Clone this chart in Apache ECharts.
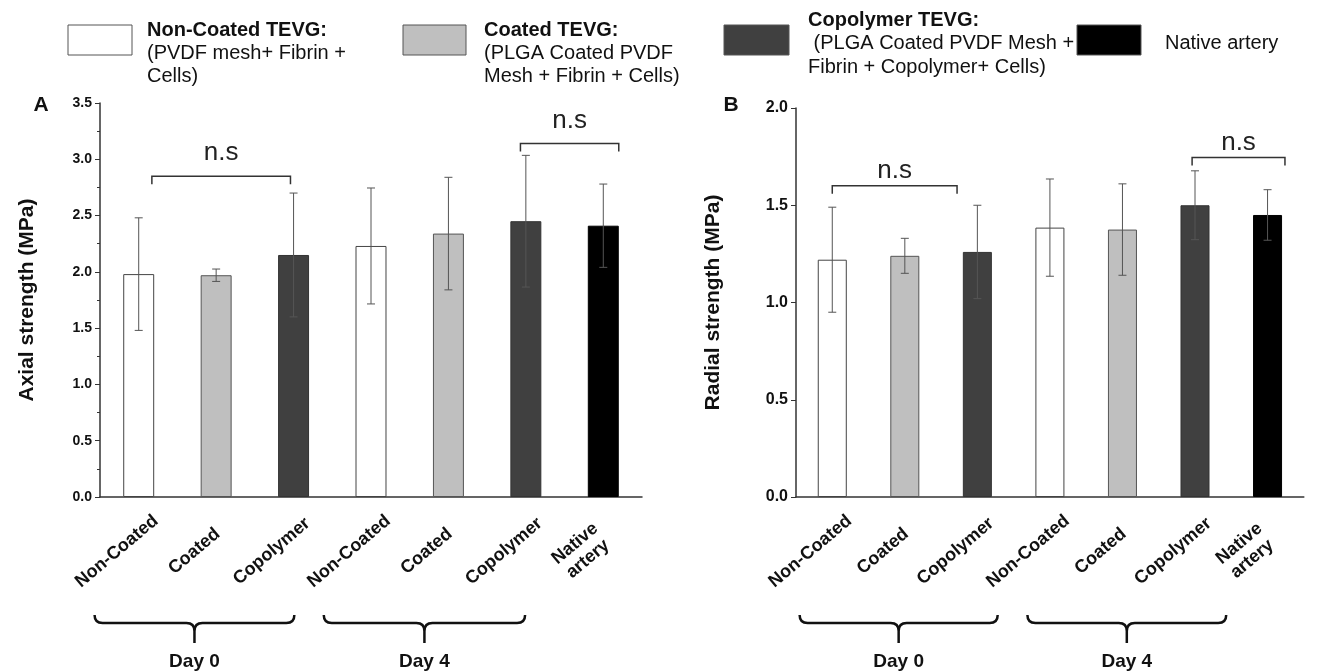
<!DOCTYPE html>
<html>
<head>
<meta charset="utf-8">
<script src="https://cdn.jsdelivr.net/npm/echarts@6/dist/echarts.min.js"></script>
<style>
  html, body { margin: 0; padding: 0; background: #fff; }
  #main { width: 1325px; height: 672px; }
</style>
</head>
<body>
<div id="main"></div>
<script>
// bar labels (same for both panels)
var categories = ['Non-Coated', 'Coated', 'Copolymer', 'Non-Coated', 'Coated', 'Copolymer', 'Native\nartery'];
// which material each bar is: 0 non-coated, 1 coated, 2 copolymer, 3 native
var groups = [0, 1, 2, 0, 1, 2, 3];

// panel A - axial strength (MPa), mean and error
var axialMean = [1.98, 1.97, 2.15, 2.23, 2.34, 2.45, 2.41];
var axialErr = [0.50, 0.055, 0.55, 0.515, 0.50, 0.585, 0.37];
// panel B - radial strength (MPa), mean and error
var radialMean = [1.22, 1.24, 1.26, 1.385, 1.375, 1.50, 1.45];
var radialErr = [0.27, 0.09, 0.24, 0.25, 0.235, 0.177, 0.13];

// significance brackets: [from category, to category, value]
var axialBrackets = [[0.17, 1.96, 2.85], [4.93, 6.2, 3.14]];
var radialBrackets = [[0.0, 1.72, 1.60], [4.96, 6.24, 1.745]];
var bracketText = 'n.s';

// day groups under the axis: [from category, to category]
var dayNames = ['Day 0', 'Day 4'];
var axialDays = [[-0.57, 2.01], [2.39, 4.99]];
var radialDays = [[-0.45, 2.28], [2.69, 5.43]];

var barStyles = [
    { color: '#ffffff', borderColor: '#444', borderWidth: 1 },
    { color: '#bfbfbf', borderColor: '#555', borderWidth: 1 },
    { color: '#404040', borderColor: '#333', borderWidth: 1 },
    { color: '#000000', borderColor: '#000', borderWidth: 1 }
];

var FONT = '"Liberation Sans", Arial, Helvetica, sans-serif';

function catX(api, x, y) {
    var p0 = api.coord([0, y]);
    var band = api.size([1, 0])[0];
    return [p0[0] + x * band, p0[1]];
}

function barSeries(idx, means) {
    return {
        type: 'bar',
        xAxisIndex: idx,
        yAxisIndex: idx,
        barWidth: '40%',
        data: means.map(function (v, i) {
            return { value: v, itemStyle: barStyles[groups[i]] };
        }),
        z: 2
    };
}

function errorSeries(idx, means, errs) {
    return {
        type: 'custom',
        xAxisIndex: idx,
        yAxisIndex: idx,
        encode: { x: 0, y: [1, 2] },
        data: means.map(function (v, i) { return [i, v - errs[i], v + errs[i]]; }),
        renderItem: function (params, api) {
            var lo = api.coord([api.value(0), api.value(1)]);
            var hi = api.coord([api.value(0), api.value(2)]);
            var cap = 4;
            var st = { stroke: '#555', lineWidth: 1 };
            return {
                type: 'group',
                children: [
                    { type: 'line', shape: { x1: lo[0], y1: lo[1], x2: hi[0], y2: hi[1] }, style: st },
                    { type: 'line', shape: { x1: hi[0] - cap, y1: hi[1], x2: hi[0] + cap, y2: hi[1] }, style: st },
                    { type: 'line', shape: { x1: lo[0] - cap, y1: lo[1], x2: lo[0] + cap, y2: lo[1] }, style: st }
                ]
            };
        },
        z: 3
    };
}

function bracketSeries(idx, brackets, textGap) {
    return {
        type: 'custom',
        xAxisIndex: idx,
        yAxisIndex: idx,
        encode: { x: 0, y: 1 },
        data: brackets.map(function (b) { return [0, b[2], b[0], b[1]]; }),
        renderItem: function (params, api) {
            var y = api.value(1);
            var a = catX(api, api.value(2), y);
            var b = catX(api, api.value(3), y);
            var drop = 8;
            return {
                type: 'group',
                children: [
                    {
                        type: 'polyline',
                        shape: { points: [[a[0], a[1] + drop], [a[0], a[1]], [b[0], b[1]], [b[0], b[1] + drop]] },
                        style: { stroke: '#333', lineWidth: 1.5, fill: null }
                    },
                    {
                        type: 'text',
                        style: {
                            text: bracketText, x: (a[0] + b[0]) / 2, y: a[1] - textGap,
                            align: 'center', verticalAlign: 'middle',
                            font: '26px ' + FONT, fill: '#222'
                        }
                    }
                ]
            };
        },
        z: 4
    };
}

function braceSeries(idx, spans) {
    return {
        type: 'custom',
        xAxisIndex: idx,
        yAxisIndex: idx,
        encode: { x: 0, y: 1 },
        data: spans.map(function (s) { return [0, 0, s[0], s[1]]; }),
        renderItem: function (params, api) {
            var a = catX(api, api.value(2), 0);
            var b = catX(api, api.value(3), 0);
            var x0 = a[0], x1 = b[0], xc = (x0 + x1) / 2;
            var y0 = a[1] + 118, yb = y0 + 8, tip = y0 + 28, r = 8;
            var d = 'M' + x0 + ' ' + y0 + ' Q' + x0 + ' ' + yb + ' ' + (x0 + r) + ' ' + yb +
                ' L' + (xc - r) + ' ' + yb + ' Q' + xc + ' ' + yb + ' ' + xc + ' ' + (yb + r) +
                ' L' + xc + ' ' + tip +
                ' M' + xc + ' ' + (yb + r) + ' Q' + xc + ' ' + yb + ' ' + (xc + r) + ' ' + yb +
                ' L' + (x1 - r) + ' ' + yb + ' Q' + x1 + ' ' + yb + ' ' + x1 + ' ' + y0;
            return {
                type: 'group',
                children: [
                    { type: 'path', shape: { pathData: d }, style: { stroke: '#111', lineWidth: 2.5, fill: null } },
                    {
                        type: 'text',
                        style: {
                            text: dayNames[params.dataIndex], x: xc, y: y0 + 47,
                            align: 'center', verticalAlign: 'middle',
                            font: 'bold 19px ' + FONT, fill: '#111'
                        }
                    }
                ]
            };
        }
    };
}

function xAxisFor(idx) {
    return {
        gridIndex: idx,
        type: 'category',
        data: categories,
        axisLine: { lineStyle: { color: '#333', width: 1.5 } },
        axisTick: { alignWithLabel: true, interval: 0, length: 6, lineStyle: { color: '#333' } },
        axisLabel: {
            interval: 0, rotate: 40, align: 'center', verticalAlign: 'middle',
            margin: 36, padding: [0, 57, 0, 0],
            color: '#111', fontWeight: 'bold', fontSize: 18, fontFamily: FONT, lineHeight: 20
        },
        splitLine: { show: false }
    };
}

function yAxisFor(idx, max, name, labelSize, minor, gap) {
    return {
        gridIndex: idx,
        type: 'value',
        min: 0, max: max, interval: 0.5,
        name: name,
        nameLocation: 'middle',
        nameGap: gap,
        nameTextStyle: { color: '#111', fontWeight: 'bold', fontSize: 21, fontFamily: FONT },
        axisLine: { show: true, lineStyle: { color: '#333', width: 1.5 } },
        axisTick: { show: true, length: 5, lineStyle: { color: '#333' } },
        minorTick: { show: minor, splitNumber: 2, length: 3, lineStyle: { color: '#333' } },
        axisLabel: {
            color: '#111', fontWeight: 'bold', fontSize: labelSize, fontFamily: FONT, margin: 8,
            formatter: function (v) { return v.toFixed(1); }
        },
        splitLine: { show: false }
    };
}

function legendBox(x, y, w, h, fill) {
    return { type: 'rect', shape: { x: x, y: y, width: w, height: h }, style: { fill: fill, stroke: '#555', lineWidth: 1 } };
}
function legendText(x, y, text, bold) {
    return {
        type: 'text',
        style: {
            text: text, x: x, y: y, align: 'left', verticalAlign: 'middle',
            font: (bold ? 'bold ' : '') + '20px ' + FONT, fill: '#111'
        }
    };
}

var myChart = echarts.init(document.getElementById('main'));
var option = {
    animation: false,
    backgroundColor: '#fff',
    grid: [
        { left: 100, top: 103, width: 542, height: 394 },
        { left: 796, top: 108, width: 511, height: 389 }
    ],
    xAxis: [xAxisFor(0), xAxisFor(1)],
    yAxis: [
        yAxisFor(0, 3.5, 'Axial strength (MPa)', 14, true, 62),
        yAxisFor(1, 2.0, 'Radial strength (MPa)', 16, false, 72)
    ],
    series: [
        barSeries(0, axialMean),
        errorSeries(0, axialMean, axialErr),
        bracketSeries(0, axialBrackets, 23),
        braceSeries(0, axialDays),
        barSeries(1, radialMean),
        errorSeries(1, radialMean, radialErr),
        bracketSeries(1, radialBrackets, 15),
        braceSeries(1, radialDays)
    ],
    graphic: [
        legendBox(68, 25, 64, 30, '#ffffff'),
        legendText(147, 30, 'Non-Coated TEVG:', true),
        legendText(147, 53, '(PVDF mesh+ Fibrin +'),
        legendText(147, 76, 'Cells)'),
        legendBox(403, 25, 63, 30, '#bfbfbf'),
        legendText(484, 30, 'Coated TEVG:', true),
        legendText(484, 53, '(PLGA Coated PVDF'),
        legendText(484, 76, 'Mesh + Fibrin + Cells)'),
        legendBox(724, 25, 65, 30, '#404040'),
        legendText(808, 20, 'Copolymer TEVG:', true),
        legendText(808, 43, ' (PLGA Coated PVDF Mesh +'),
        legendText(808, 67, 'Fibrin + Copolymer+ Cells)'),
        legendBox(1077, 25, 64, 30, '#000000'),
        legendText(1165, 43, 'Native artery'),
        { type: 'text', style: { text: 'A', x: 41, y: 105, align: 'center', verticalAlign: 'middle', font: 'bold 21px ' + FONT, fill: '#111' } },
        { type: 'text', style: { text: 'B', x: 731, y: 105, align: 'center', verticalAlign: 'middle', font: 'bold 21px ' + FONT, fill: '#111' } }
    ]
};
myChart.setOption(option);
</script>
</body>
</html>
